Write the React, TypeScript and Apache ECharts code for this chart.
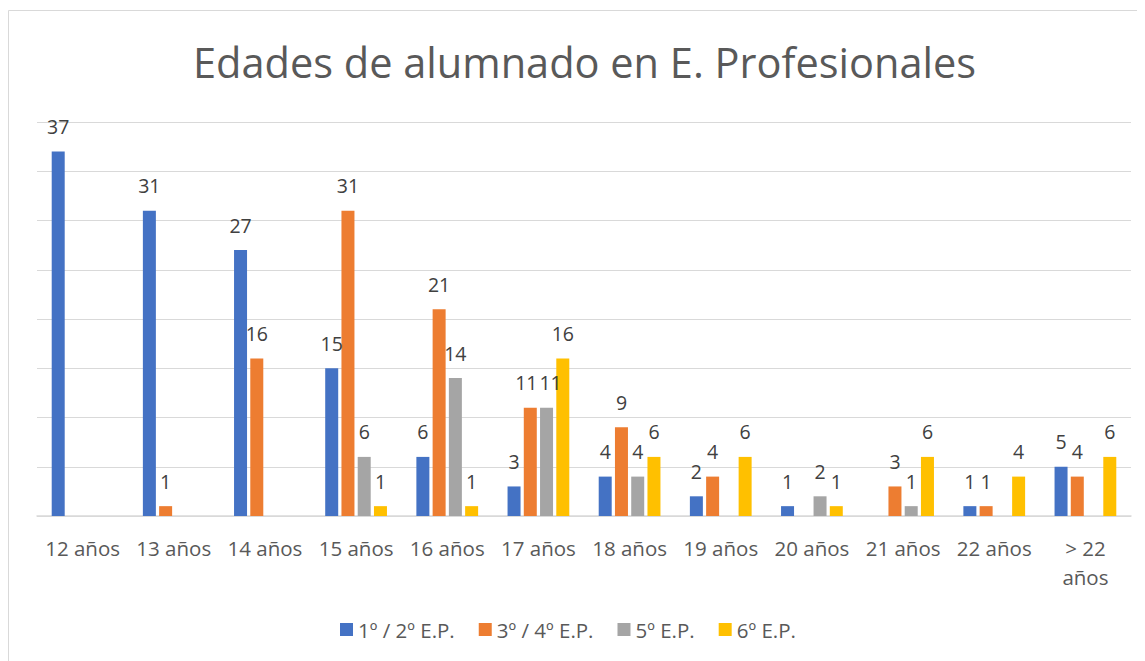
import React, { useEffect, useRef } from "react";
import * as echarts from "echarts";

const categories = ["12 años", "13 años", "14 años", "15 años", "16 años", "17 años", "18 años", "19 años", "20 años", "21 años", "22 años", "> 22\naños"];
const seriesNames = ["1º / 2º E.P.", "3º / 4º E.P.", "5º E.P.", "6º E.P."];
const s1 = [37, 31, 27, 15, 6, 3, 4, 2, 1, null, 1, 5];
const s2 = [null, 1, 16, 31, 21, 11, 9, 4, null, 3, 1, 4];
const s3 = [null, null, null, 6, 14, 11, 4, null, 2, 1, null, null];
const s4 = [null, null, null, 1, 1, 16, 6, 6, 1, 6, 4, 6];
const colors = ["#4472C4", "#ED7D31", "#A5A5A5", "#FFC000"];
const FONT = "'Open Sans', sans-serif";

export default function App() {
  const ref = useRef<HTMLDivElement>(null);
  useEffect(() => {
    document.body.style.overflow = "hidden";
    const chart = echarts.init(ref.current!, null, { renderer: "svg" });
    const data = [s1, s2, s3, s4];
    // small horizontal nudges so that touching labels stay readable (17 años)
    const nudges: Record<string, number> = { "1-5": -4, "2-5": 4 };
    chart.setOption({
      animation: false,
      textStyle: { fontFamily: FONT },
      title: {
        text: "Edades de alumnado en E. Profesionales",
        left: 180,
        top: 28,
        textStyle: { fontFamily: FONT, fontSize: 41.5, fontWeight: "normal", color: "#595959" },
      },
      legend: {
        bottom: 16,
        left: 327,
        itemWidth: 13,
        itemHeight: 13,
        itemGap: 24,
        icon: "rect",
        textStyle: { fontFamily: FONT, fontSize: 20.5, color: "#595959" },
        data: seriesNames,
      },
      grid: { left: 29, right: 14, top: 114, bottom: 145 },
      xAxis: {
        type: "category",
        data: categories,
        axisLine: { lineStyle: { color: "#d9d9d9", width: 1.5 } },
        axisTick: { show: false },
        axisLabel: { fontFamily: FONT, fontSize: 20.5, color: "#595959", margin: 17, lineHeight: 29, interval: 0 },
      },
      yAxis: {
        type: "value",
        min: 0,
        max: 40,
        interval: 5,
        axisLabel: { show: false },
        axisLine: { show: false },
        axisTick: { show: false },
        splitLine: { lineStyle: { color: "#d9d9d9", width: 1 } },
      },
      graphic: [
        {
          type: "rect",
          shape: { x: 0.5, y: 2.5, width: 1300, height: 800 },
          style: { fill: "none", stroke: "#d9d9d9", lineWidth: 1 },
          silent: true,
        },
      ],
      series: data.map((d, i) => ({
        name: seriesNames[i],
        type: "bar",
        data: d.map((v, j) => {
          const dx = nudges[`${i}-${j}`];
          return dx ? { value: v, label: { offset: [dx, 0] } } : v;
        }),
        barWidth: 13,
        barGap: "25%",
        itemStyle: { color: colors[i] },
        label: {
          show: true,
          position: "top",
          distance: 15,
          fontFamily: FONT,
          fontSize: 19.5,
          color: "#404040",
        },
      })),
    });
    return () => chart.dispose();
  }, []);
  return <div ref={ref} style={{ width: 1137, height: 653 }} />;
}
